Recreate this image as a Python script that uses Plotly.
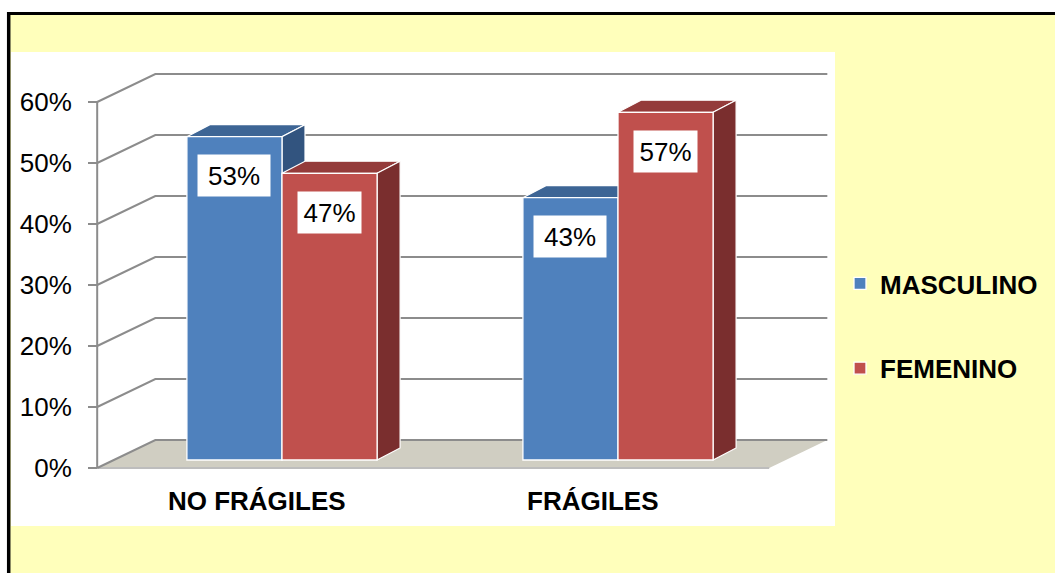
import plotly.graph_objects as go

# ---- data -------------------------------------------------------------
categories = ["NO FRÁGILES", "FRÁGILES"]
series_names = ["MASCULINO", "FEMENINO"]
masculino = [53, 43]
femenino = [47, 57]
y_ticks = [0, 10, 20, 30, 40, 50, 60]
y_tick_labels = ["0%", "10%", "20%", "30%", "40%", "50%", "60%"]

# ---- styling ----------------------------------------------------------
W, H = 1055, 573
FONT = "Arial, Liberation Sans, sans-serif"
YELLOW = "#FFFFBB"
GRID = "#8C8C8C"
FACE = ["#4F81BD", "#C0504D"]
TOP = ["#3D6595", "#943B3A"]
SIDE = ["#32547F", "#7A2E2E"]
LABEL_BOX_W = [70, 61]

# pseudo-3D geometry, in data units of the bar plane
BAR_W = 0.283                 # width of one bar
DEPTH = (0.0685, 1.97)        # depth offset of a bar (x, y)
FRONT = (-0.05, -1.31)        # front wall plane relative to the bar plane
BACK = (0.123, 3.28)          # back wall plane relative to the bar plane
X_LO, X_HI = -0.5, 1.5        # extent of the floor
X_RANGE = [-0.5714, 1.6369]
Y_RANGE = [-2.623, 64.26]


def poly(points):
    return "M " + " L ".join(f"{x},{y}" for x, y in points) + " Z"


def line(points):
    return "M " + " L ".join(f"{x},{y}" for x, y in points)


fig = go.Figure()

series = [masculino, femenino]
offsets = [-BAR_W, 0.0]
for i, (name, vals) in enumerate(zip(series_names, series)):
    fig.add_trace(go.Bar(
        x=list(range(len(categories))), y=vals, name=name,
        width=BAR_W, offset=offsets[i],
        marker=dict(color=FACE[i], line=dict(color="white", width=1.3)),
        legendgroup=name, hoverinfo="skip",
    ))

# front value axis line, drawn on the front-plane axis
fig.add_trace(go.Scatter(
    x=[X_LO + FRONT[0]] * len(y_ticks), y=y_ticks, yaxis="y2",
    mode="lines", line=dict(color=GRID, width=2),
    showlegend=False, hoverinfo="skip",
))

shapes = []
# floor
floor = [(X_LO + FRONT[0], FRONT[1]), (X_HI + FRONT[0], FRONT[1]),
         (X_HI + BACK[0], BACK[1]), (X_LO + BACK[0], BACK[1])]
shapes.append(dict(type="path", path=poly(floor), xref="x", yref="y",
                   fillcolor="#D0CEC2", line=dict(width=0), layer="below"))
shapes.append(dict(type="path", path=line(floor[:2]), xref="x", yref="y",
                   line=dict(color="#BDBDBD", width=2), layer="below"))
# back-wall gridlines running into the depth
for v in y_ticks:
    pts = [(X_LO + FRONT[0], v + FRONT[1]), (X_LO + BACK[0], v + BACK[1]),
           (X_HI + BACK[0], v + BACK[1])]
    shapes.append(dict(type="path", path=line(pts), xref="x", yref="y",
                       line=dict(color=GRID, width=2), layer="below"))

# bar tops and sides
for c in range(len(categories)):
    for i, vals in enumerate(series):
        v = vals[c]
        x0 = c + offsets[i]
        x1 = x0 + BAR_W
        top = [(x0, v), (x1, v), (x1 + DEPTH[0], v + DEPTH[1]),
               (x0 + DEPTH[0], v + DEPTH[1])]
        side = [(x1, 0), (x1, v), (x1 + DEPTH[0], v + DEPTH[1]),
                (x1 + DEPTH[0], DEPTH[1])]
        shapes.append(dict(type="path", path=poly(top), xref="x", yref="y",
                           fillcolor=TOP[i], line=dict(color="white", width=1.2),
                           layer="below"))
        shapes.append(dict(type="path", path=poly(side), xref="x", yref="y",
                           fillcolor=SIDE[i], line=dict(color="white", width=1.2),
                           layer="below"))

# frame: yellow chart area, white plot panel, black border
shapes += [
    dict(type="rect", xref="paper", yref="paper", x0=10 / W, x1=1,
         y0=0, y1=1 - 14 / H, fillcolor=YELLOW, line=dict(width=0), layer="below"),
    dict(type="rect", xref="paper", yref="paper", x0=11 / W, x1=835 / W,
         y0=1 - 526 / H, y1=1 - 52 / H, fillcolor="white", line=dict(width=0),
         layer="below"),
    dict(type="line", xref="paper", yref="paper", x0=7 / W, x1=1,
         y0=1 - 13.5 / H, y1=1 - 13.5 / H, line=dict(color="black", width=3)),
    dict(type="line", xref="paper", yref="paper", x0=8.7 / W, x1=8.7 / W,
         y0=0, y1=1 - 12 / H, line=dict(color="black", width=3.5)),
]

# value labels in white boxes
annotations = []
for c in range(len(categories)):
    for i, vals in enumerate(series):
        v = vals[c]
        annotations.append(dict(
            x=c + offsets[i] + BAR_W / 2, y=v - 6.4, xref="x", yref="y",
            text=f"{v}%", showarrow=False, bgcolor="white",
            width=LABEL_BOX_W[i], height=39,
            font=dict(family=FONT, size=26, color="black"),
        ))

fig.update_layout(
    width=W, height=H,
    margin=dict(l=0, r=0, t=0, b=0, autoexpand=False),
    paper_bgcolor="white",
    plot_bgcolor="rgba(0,0,0,0)",
    barmode="overlay",
    font=dict(family=FONT, color="black"),
    shapes=shapes,
    annotations=annotations,
    xaxis=dict(domain=[90 / W, 832 / W], range=X_RANGE, automargin=False,
               tickvals=[c - 0.075 for c in range(len(categories))],
               ticktext=categories, showgrid=False, zeroline=False,
               showline=False, ticks="", ticklabelstandoff=7,
               tickfont=dict(family=FONT, size=26, weight="bold")),
    yaxis=dict(domain=[1 - 476 / H, 1 - 68 / H], range=Y_RANGE,
               visible=False, showgrid=False, zeroline=False, automargin=False),
    yaxis2=dict(overlaying="y", anchor="free", position=97 / W,
                range=[Y_RANGE[0] - FRONT[1], Y_RANGE[1] - FRONT[1]],
                tickvals=y_ticks, ticktext=y_tick_labels, automargin=False,
                ticks="outside", ticklen=9, tickwidth=2, tickcolor=GRID,
                showgrid=False, zeroline=False, showline=False,
                ticklabelstandoff=11,
                tickfont=dict(family=FONT, size=26, color="black")),
    legend=dict(x=840 / W, xanchor="left", y=1 - 260 / H, yanchor="top",
                bgcolor="rgba(0,0,0,0)", traceorder="grouped",
                tracegroupgap=48,
                font=dict(family=FONT, size=26, weight="bold")),
    showlegend=True,
)

fig.write_html("out.html")
